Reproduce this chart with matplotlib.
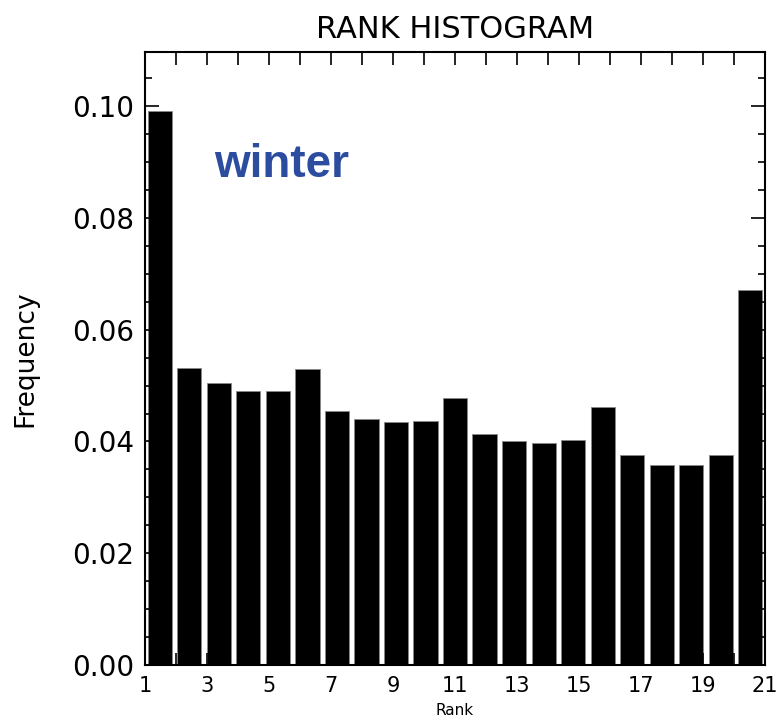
import numpy as np
import matplotlib.pyplot as plt
from matplotlib.ticker import FixedLocator, MultipleLocator

# 数据
ranks = np.arange(1, 22)
freq = [0.0991, 0.0532, 0.0504, 0.0491, 0.0491, 0.0530, 0.0455, 0.0441,
        0.0435, 0.0437, 0.0477, 0.0414, 0.0401, 0.0398, 0.0403, 0.0461,
        0.0375, 0.0358, 0.0358, 0.0375, 0.0671]
rank_labels = [1, 3, 5, 7, 9, 11, 13, 15, 17, 19, 21]
season = 'winter'

plt.rcParams['font.family'] = ['DejaVu Sans']

fig = plt.figure(figsize=(7.78, 7.23), dpi=100)
ax = fig.add_axes([0.1864, 0.0802, 0.797, 0.848])

ax.bar(ranks, freq, width=0.82, color='black', edgecolor='#888888', linewidth=0.6)

ax.set_xlim(0.5, 21.5)
ax.set_ylim(0, 0.1097)

# x 轴刻度：标签 1..21 均匀分布在整个轴上
tick_pos = np.linspace(0.5, 21.5, len(rank_labels))
ax.xaxis.set_major_locator(FixedLocator(tick_pos))
ax.xaxis.set_minor_locator(FixedLocator(np.linspace(0.5, 21.5, 21)))
ax.set_xticklabels([str(r) for r in rank_labels], fontsize=15)

ax.yaxis.set_major_locator(MultipleLocator(0.02))
ax.yaxis.set_minor_locator(MultipleLocator(0.005))
ax.set_yticks(np.arange(0, 0.101, 0.02))
ax.set_yticklabels(['%.2f' % v for v in np.arange(0, 0.101, 0.02)], fontsize=20)

ax.tick_params(axis='both', which='both', direction='in', top=True, right=True, width=1.2)
ax.tick_params(axis='y', which='major', length=10, pad=8)
ax.tick_params(axis='y', which='minor', length=5)
ax.tick_params(axis='x', which='both', length=9, pad=8)

for s in ax.spines.values():
    s.set_linewidth(1.5)

ax.set_title('RANK HISTOGRAM', fontsize=22, pad=10)
ax.set_xlabel('Rank', fontsize=11, labelpad=5)
ax.set_ylabel('Frequency', fontsize=19, labelpad=24)

ax.text(0.221, 0.796, season, transform=ax.transAxes, ha='center', va='baseline',
        fontsize=33, fontweight='bold', color='#2B4C9F', family='Liberation Sans')

fig.savefig('out.png', dpi=100)
